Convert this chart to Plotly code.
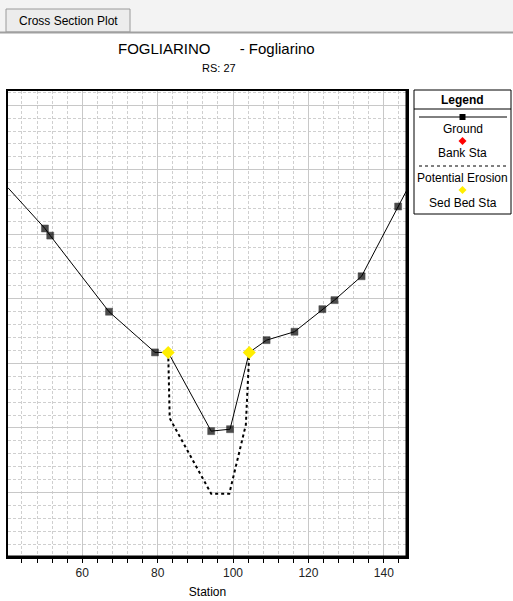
import plotly.graph_objects as go

# ---------------- data ----------------
ground_sta = [40.3, 50.1, 51.5, 67.1, 79.3, 82.8, 94.2, 99.2, 104.3, 108.9, 116.3, 123.7, 126.9, 134.1, 143.8, 146.15]
ground_elev = [105.72, 105.09, 104.98, 103.80, 103.17, 103.17, 101.95, 101.98, 103.17, 103.36, 103.49, 103.84, 103.98, 104.35, 105.43, 105.69]

bank_sta = [82.8, 104.3]
bank_elev = [103.17, 103.17]

sed_bed_sta = [82.8, 104.3]
sed_bed_elev = [103.17, 103.17]

erosion_sta = [82.8, 83.2, 94.2, 99.0, 103.4, 104.3]
erosion_elev = [103.17, 102.15, 100.98, 100.98, 102.05, 103.17]

x_range = [40.3, 146.15]
y_range = [100.0, 107.22]

title_main = "FOGLIARINO       - Fogliarino"
title_sub = "RS: 27"
legend_labels = ["Ground", "Bank Sta", "Potential Erosion", "Sed Bed Sta"]

# ---------------- layout geometry (pixels) ----------------
W, H = 513, 601
L, R, T, B = 8, 407, 91, 557
PW, PH = R - L, B - T

def px(x):
    return (x - L) / PW

def py(y):
    return (B - y) / PH

FONT = "Arial, Liberation Sans, sans-serif"

fig = go.Figure()

# erosion line
fig.add_trace(go.Scatter(x=erosion_sta, y=erosion_elev, mode="lines",
                         line=dict(color="black", width=2, dash="dot"),
                         showlegend=False, hoverinfo="skip"))

# ground line with markers (no marker at ends / where sed bed markers sit)
sizes = []
for i, s in enumerate(ground_sta):
    if i == 0 or i == len(ground_sta) - 1 or s in sed_bed_sta:
        sizes.append(0)
    else:
        sizes.append(7)
fig.add_trace(go.Scatter(x=ground_sta, y=ground_elev, mode="lines+markers",
                         line=dict(color="black", width=1),
                         marker=dict(symbol="square", size=sizes, color="black",
                                     line=dict(width=0.5, color="black")),
                         showlegend=False, hoverinfo="skip"))

fig.add_trace(go.Scatter(x=bank_sta, y=bank_elev, mode="markers",
                         marker=dict(symbol="diamond", size=8, color="red"),
                         showlegend=False, hoverinfo="skip"))
fig.add_trace(go.Scatter(x=sed_bed_sta, y=sed_bed_elev, mode="markers",
                         marker=dict(symbol="diamond", size=10, color="#ffee00"),
                         showlegend=False, hoverinfo="skip"))

shapes = []
annotations = []

def text(t, x, y, size=12, color="black"):
    return dict(text=t, xref="paper", yref="paper", x=px(x), y=py(y),
                xanchor="center", yanchor="middle", showarrow=False,
                font=dict(family=FONT, size=size, color=color))

# tab header
shapes.append(dict(type="rect", xref="paper", yref="paper",
                   x0=px(-2), x1=px(520), y0=py(33), y1=py(-2),
                   fillcolor="#f3f3f3", line=dict(width=0), layer="below"))
shapes.append(dict(type="rect", xref="paper", yref="paper",
                   x0=px(6), x1=px(130), y0=py(32), y1=py(9),
                   fillcolor="#ececec", line=dict(color="#9a9a9a", width=1)))
shapes.append(dict(type="line", xref="paper", yref="paper",
                   x0=px(0), x1=px(513), y0=py(32.5), y1=py(32.5),
                   line=dict(color="#a0a0a0", width=2)))
annotations.append(text("Cross Section Plot", 68, 21, 12))

# titles
annotations.append(text(title_main, 216, 48, 15))
annotations.append(text(title_sub, 219, 68, 11))

# thicker right and bottom frame
shapes.append(dict(type="line", xref="paper", yref="paper",
                   x0=0, x1=1.0, y0=py(557), y1=py(557),
                   line=dict(color="black", width=3)))
shapes.append(dict(type="line", xref="paper", yref="paper",
                   x0=px(407), x1=px(407), y0=0, y1=1,
                   line=dict(color="black", width=3)))

# legend box
LX0, LX1, LY0, LY1 = 414, 511, 90, 214
CX = (LX0 + LX1) / 2
shapes.append(dict(type="rect", xref="paper", yref="paper",
                   x0=px(LX0), x1=px(LX1), y0=py(LY1), y1=py(LY0),
                   fillcolor="white", line=dict(color="black", width=1)))
shapes.append(dict(type="line", xref="paper", yref="paper",
                   x0=px(LX0), x1=px(LX1), y0=py(109), y1=py(109),
                   line=dict(color="black", width=1)))
annotations.append(text("<b>Legend</b>", CX, 100, 12))
# ground sample
shapes.append(dict(type="line", xref="paper", yref="paper",
                   x0=px(419), x1=px(507), y0=py(117), y1=py(117),
                   line=dict(color="black", width=1)))
shapes.append(dict(type="rect", xref="paper", yref="paper",
                   x0=px(CX - 3), x1=px(CX + 3), y0=py(120), y1=py(114),
                   fillcolor="black", line=dict(width=0)))

def diamond(cx, cy, r, color):
    path = (f"M {px(cx)} {py(cy - r)} L {px(cx + r)} {py(cy)} "
            f"L {px(cx)} {py(cy + r)} L {px(cx - r)} {py(cy)} Z")
    return dict(type="path", xref="paper", yref="paper", path=path,
                fillcolor=color, line=dict(width=0))

shapes.append(diamond(CX, 141, 4, "red"))
# erosion dotted
shapes.append(dict(type="line", xref="paper", yref="paper",
                   x0=px(419), x1=px(507), y0=py(166), y1=py(166),
                   line=dict(color="black", width=1, dash="dot")))
shapes.append(diamond(CX, 190, 4, "#ffee00"))

for lbl, yy in zip(legend_labels, [129, 153, 178, 203]):
    annotations.append(text(lbl, CX, yy, 12))

fig.update_layout(
    width=W, height=H,
    margin=dict(l=L, r=W - R, t=T, b=H - B, pad=0, autoexpand=False),
    paper_bgcolor="white", plot_bgcolor="white",
    shapes=shapes, annotations=annotations,
    font=dict(family=FONT, size=12, color="black"),
    showlegend=False,
)

fig.update_xaxes(
    range=x_range, tick0=0, dtick=20, automargin=False,
    showgrid=True, gridcolor="#c8c8c8", gridwidth=1,
    ticks="outside", ticklen=4, tickcolor="black", tickwidth=1,
    tickfont=dict(family=FONT, size=12, color="#222222"),
    showline=True, linecolor="black", linewidth=2, mirror=True,
    zeroline=False,
    minor=dict(dtick=4, tick0=0, showgrid=True, gridcolor="#cfcfcf",
               griddash="3px,2px", gridwidth=1,
               ticks="outside", ticklen=4, tickcolor="black"),
    title=dict(text="Station", font=dict(family=FONT, size=12, color="black"), standoff=8),
)
fig.update_yaxes(
    range=y_range, tick0=0, dtick=1, automargin=False,
    showgrid=True, gridcolor="#c8c8c8", gridwidth=1,
    showticklabels=False, ticks="",
    showline=True, linecolor="black", linewidth=2, mirror=True,
    zeroline=False,
    minor=dict(dtick=0.2, tick0=0, showgrid=True, gridcolor="#cfcfcf",
               griddash="3px,2px", gridwidth=1),
)

fig.write_html("out.html", config={"displayModeBar": False},
               post_script="document.body.style.margin='0';document.body.style.overflow='hidden';")
